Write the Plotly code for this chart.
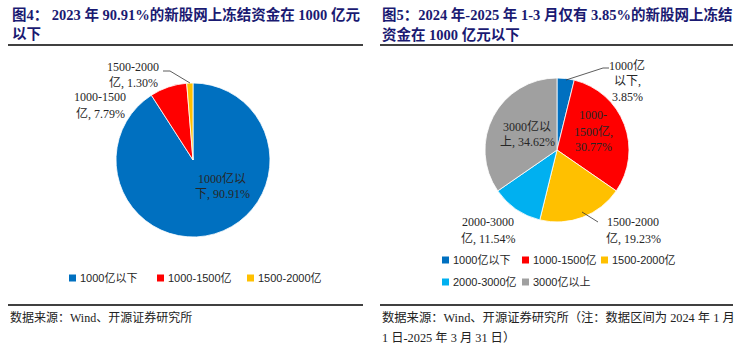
import plotly.graph_objects as go

W, H = 741, 350

# ---------------- data ----------------
left_labels = ["1000亿以下", "1000-1500亿", "1500-2000亿"]
left_values = [90.91, 7.79, 1.30]
left_colors = ["#0070C0", "#FF0000", "#FFC000"]

right_labels = ["1000亿以下", "1000-1500亿", "1500-2000亿", "2000-3000亿", "3000亿以上"]
right_values = [3.85, 30.77, 19.23, 11.54, 34.62]
right_colors = ["#0070C0", "#FF0000", "#FFC000", "#00B0F0", "#A0A0A0"]

left_title = ["图4：&nbsp;2023 年 90.91%的新股网上冻结资金在 1000 亿元", "以下"]
right_title = ["图5：2024 年-2025 年 1-3 月仅有 3.85%的新股网上冻结", "资金在 1000 亿元以下"]
left_source = ["数据来源：Wind、开源证券研究所"]
right_source = ["数据来源：Wind、开源证券研究所（注：数据区间为 2024 年 1 月",
                "1 日-2025 年 3 月 31 日）"]

# label text split (line breaks as in the picture)
left_label_lines = [["1000亿以", "下, "], ["1000-1500", "亿, "], ["1500-2000", "亿, "]]
right_label_lines = [["1000亿", "以下,", ""], ["1000-", "1500亿,", ""], ["1500-2000", "亿, "],
                     ["2000-3000", "亿, "], ["3000亿以", "上, "]]

# ---------------- helpers ----------------
def px(x):
    return x / W

def py(y):
    return 1 - y / H

SERIF = "Liberation Serif, Noto Sans CJK SC, serif"
SANS = "Liberation Sans, Noto Sans CJK SC, sans-serif"
TITLE_COLOR = "#1A1A72"
TEXT_COLOR = "#262626"

fig = go.Figure()

def add_pie(labels, values, colors, cx, cy, r):
    fig.add_trace(go.Pie(
        labels=labels, values=values, sort=False, direction="clockwise", rotation=0,
        marker=dict(colors=colors, line=dict(color="white", width=0.8)),
        textinfo="none", hoverinfo="label+value", showlegend=False,
        domain=dict(x=[px(cx - r), px(cx + r)], y=[py(cy + r), py(cy - r)]),
    ))

add_pie(left_labels, left_values, left_colors, 193, 160, 77)
add_pie(right_labels, right_values, right_colors, 557, 150, 72)

annotations = []
shapes = []

def text(x, y, s, size=12, color=TEXT_COLOR, anchor="center", bold=False, family=SERIF):
    annotations.append(dict(
        x=px(x), y=py(y), xref="paper", yref="paper", text=("<b>%s</b>" % s) if bold else s,
        showarrow=False, xanchor=anchor, yanchor="middle",
        font=dict(family=family, size=size, color=color), align="center"))

def line(x0, y0, x1, y1, color="black", width=1.3):
    shapes.append(dict(type="line", xref="paper", yref="paper",
                       x0=px(x0), y0=py(y0), x1=px(x1), y1=py(y1),
                       line=dict(color=color, width=width)))

# titles
for i, s in enumerate(left_title):
    text(10, 14 + 20 * i, s, size=14.5, color=TITLE_COLOR, anchor="left", bold=True)
for i, s in enumerate(right_title):
    text(380, 14 + 20 * i, s, size=14.5, color=TITLE_COLOR, anchor="left", bold=True)
line(8, 45, 363, 45)
line(380, 45, 733, 45)

# pie labels
def pie_label(lines_, value, x, y0, dy=16):
    parts = list(lines_)
    parts[-1] = parts[-1] + "%.2f%%" % value
    for j, s in enumerate(parts):
        text(x, y0 + dy * j, s, size=12)

left_pos = [(222, 178), (100, 97), (133, 67)]
for lines_, v, (x, y) in zip(left_label_lines, left_values, left_pos):
    pie_label(lines_, v, x, y)

right_pos = [(627, 65), (593, 115), (633, 222), (488, 222), (527, 126)]
for lines_, v, (x, y) in zip(right_label_lines, right_values, right_pos):
    pie_label(lines_, v, x, y)

# leader lines
line(163, 71, 170, 71, color="#333333", width=0.8)
line(170, 71, 190, 83, color="#333333", width=0.8)
line(566, 80, 603, 68, color="#333333", width=0.8)
line(603, 68, 609, 68, color="#333333", width=0.8)
line(582, 212, 598, 222, color="#333333", width=0.8)

# legends (manual)
def legend_item(x, y, label, color):
    shapes.append(dict(type="rect", xref="paper", yref="paper",
                       x0=px(x), x1=px(x + 7), y0=py(y + 3.5), y1=py(y - 3.5),
                       fillcolor=color, line=dict(width=0)))
    text(x + 9, y, label, size=11, anchor="left", family=SANS)

left_leg = [(69, 278), (157, 278), (247, 278)]
for (x, y), lab, c in zip(left_leg, left_labels, left_colors):
    legend_item(x, y, lab, c)

right_leg = [(442, 260), (522, 260), (601, 260), (442, 282), (522, 282)]
for (x, y), lab, c in zip(right_leg, right_labels, right_colors):
    legend_item(x, y, lab, c)

# bottom lines & sources
line(8, 305, 363, 305)
line(380, 305, 733, 305)
for i, s in enumerate(left_source):
    text(8, 317 + 21 * i, s, size=12, anchor="left", color="#222222")
for i, s in enumerate(right_source):
    text(380, 317 + 21 * i, s, size=12.3, anchor="left", color="#222222")

fig.update_layout(
    width=W, height=H, margin=dict(l=0, r=0, t=0, b=0),
    paper_bgcolor="white", plot_bgcolor="white",
    annotations=annotations, shapes=shapes, showlegend=False,
)

fig.write_html("out.html")
